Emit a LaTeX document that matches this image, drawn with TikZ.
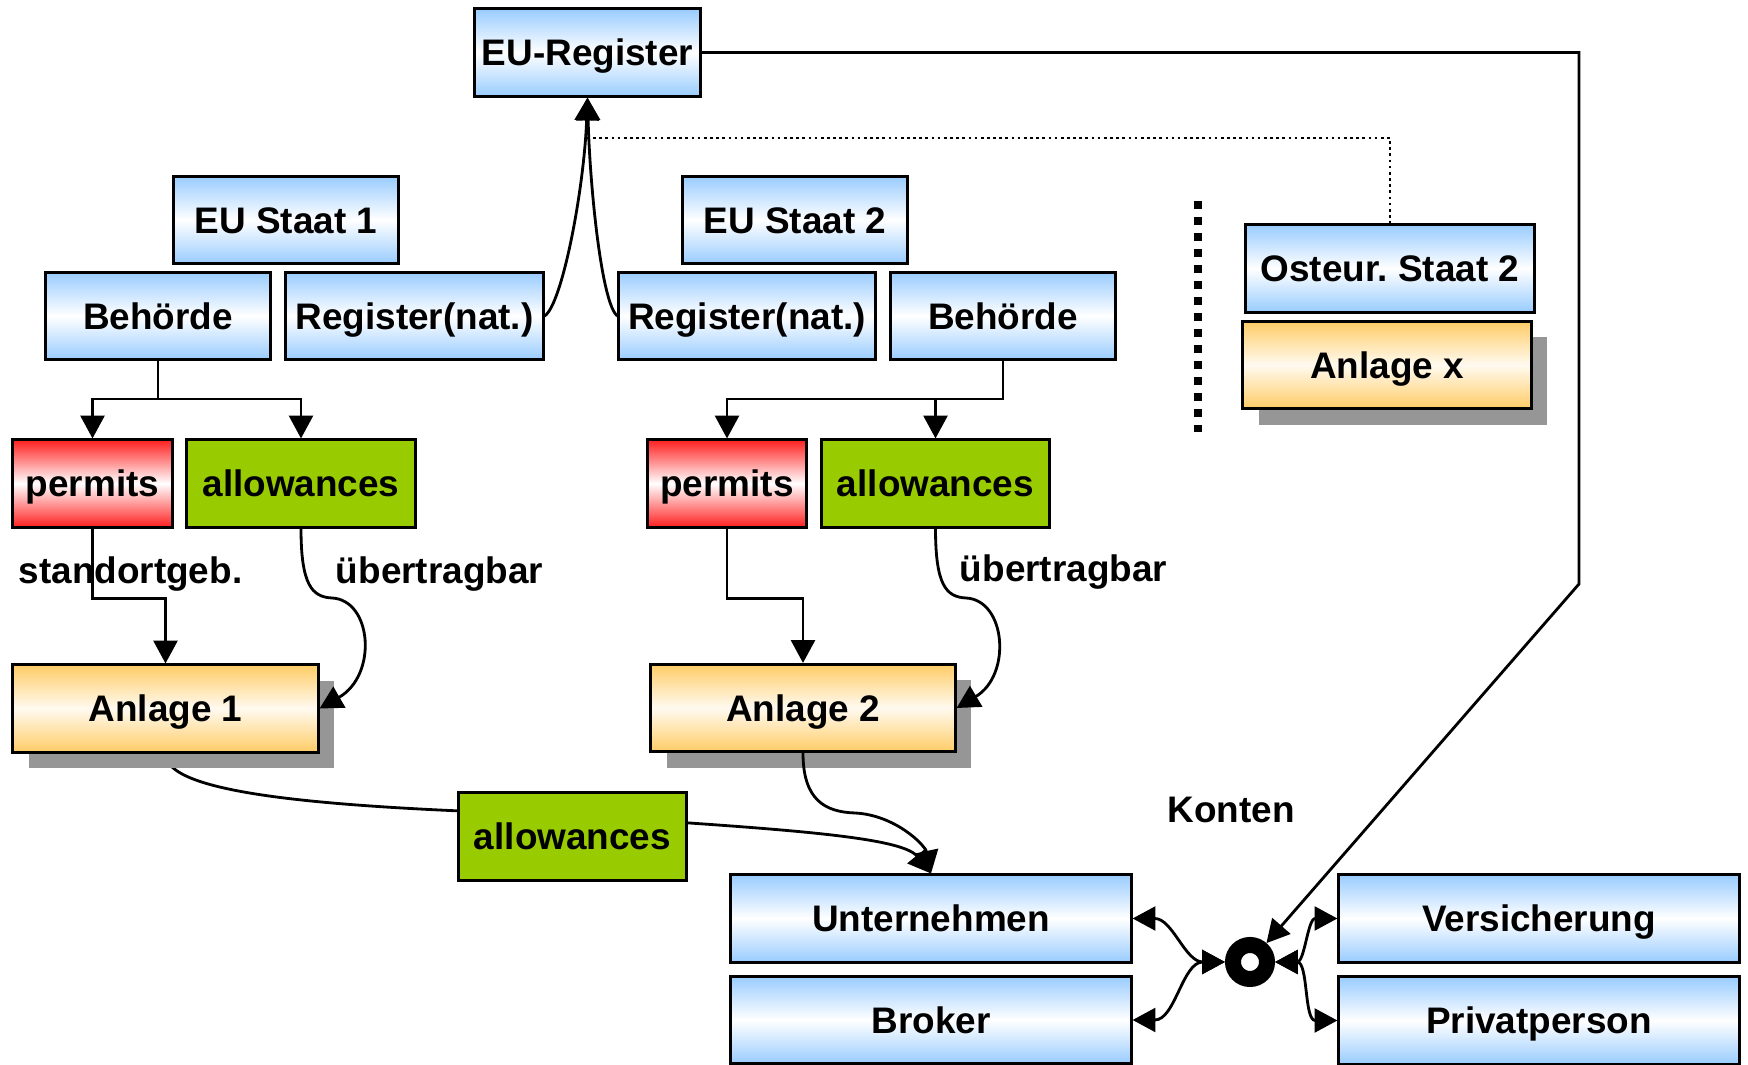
\documentclass[tikz,border=0pt]{standalone}
\usepackage{fontspec}
\setmainfont{Liberation Sans}
\usetikzlibrary{arrows.meta,shadows}
\definecolor{cblue}{RGB}{153,204,255}
\definecolor{corange}{RGB}{255,204,102}
\definecolor{corangemid}{RGB}{255,250,240}
\definecolor{cred}{RGB}{255,32,32}
\definecolor{cgreen}{RGB}{153,204,0}
\definecolor{shgray}{RGB}{150,150,150}
\pgfdeclarelayer{bg}
\pgfsetlayers{bg,main}
\frenchspacing
\begin{document}
\begin{tikzpicture}[x=0.01cm,y=-0.01cm,
  box/.style={draw=black, line width=0.85pt, minimum height=0.87cm, inner sep=0pt,
    text height=9.7pt, text depth=2.2pt,
    font=\fontsize{10.5}{12}\selectfont\bfseries},
  bluebox/.style={box, top color=cblue, bottom color=cblue, middle color=white},
  orangebox/.style={box, drop shadow={shadow xshift=0.16cm, shadow yshift=-0.16cm, fill=shgray, opacity=1},
    top color=corange, bottom color=corange, middle color=corangemid},
  redbox/.style={box, top color=cred, bottom color=cred, middle color=white},
  greenbox/.style={box, fill=cgreen},
  lbl/.style={inner sep=0pt, anchor=base, font=\fontsize{10.5}{12}\selectfont\bfseries},
  conn/.style={line width=0.8pt, -{Triangle[length=6.5pt,width=6.8pt]}},
  dconn/.style={line width=0.8pt, {Triangle[length=6.5pt,width=6.8pt]}-{Triangle[length=6.5pt,width=6.8pt]}},
  ringnode/.style={circle, draw=black, line width=0.16cm, minimum size=0.34cm, inner sep=0pt, outer sep=0.08cm}
]
\useasboundingbox (0,0) rectangle (1748,1065);

% nodes
\node[bluebox, minimum width=2.25cm] (eureg) at (587.5,52.5) {EU-Register};
\node[bluebox, minimum width=2.24cm] (staat1) at (286,220) {EU Staat 1};
\node[bluebox, minimum width=2.24cm] (beh1) at (158,316) {Behörde};
\node[bluebox, minimum width=2.57cm] (reg1) at (414.5,316) {Register(nat.)};
\node[bluebox, minimum width=2.24cm] (staat2) at (795,220) {EU Staat 2};
\node[bluebox, minimum width=2.56cm] (reg2) at (747,316) {Register(nat.)};
\node[bluebox, minimum width=2.24cm] (beh2) at (1003,316) {Behörde};
\node[redbox, minimum width=1.59cm] (perm1) at (92.5,483.5) {permits};
\node[greenbox, minimum width=2.28cm] (allow1) at (301,483.5) {allowances};
\node[orangebox, minimum width=3.05cm] (anl1) at (165.5,708.5) {Anlage 1};
\node[redbox, minimum width=1.58cm] (perm2) at (727,483.5) {permits};
\node[greenbox, minimum width=2.27cm] (allow2) at (935.5,483.5) {allowances};
\node[orangebox, minimum width=3.04cm] (anl2) at (803,708) {Anlage 2};
\node[bluebox, minimum width=2.88cm] (osteur) at (1390,268.5) {Osteur. Staat 2};
\node[orangebox, minimum width=2.88cm] (anlx) at (1387,365) {Anlage x};
\node[greenbox, minimum width=2.27cm] (allowM) at (572.5,836.5) {allowances};
\node[bluebox, minimum width=4cm] (untern) at (931,918.5) {Unternehmen};
\node[bluebox, minimum width=4cm] (broker) at (931,1020) {Broker};
\node[bluebox, minimum width=4cm] (versich) at (1539,918.5) {Versicherung};
\node[bluebox, minimum width=4cm] (privat) at (1539,1020.5) {Privatperson};
\node[ringnode] (ring) at (1250,962) {};

% labels
\node[lbl, anchor=base west] (lstand) at (18,584) {standortgeb.};
\node[lbl] (lueb1) at (439.5,584) {übertragbar};
\node[lbl] (lueb2) at (1063.5,582) {übertragbar};
\node[lbl] (lkonten) at (1231,823) {Konten};

% coordinates
\coordinate (dotstart) at (587,138);
\coordinate (b1) at (158,399);
\coordinate (b2) at (1003,399);
\coordinate (c2) at (1579,584);
\coordinate (sepA) at (1198,201);
\coordinate (sepB) at (1198,432);

% separator
\draw[line width=0.08cm, dash pattern=on 0.08cm off 0.08cm] (sepA) -- (sepB);

% registers to EU register
\draw[conn] (reg1.east) .. controls (562,305) and (584,190) .. (eureg.south);
\draw[conn] (reg2.west) .. controls (602,305) and (590,190) .. (eureg.south);
\draw[densely dotted, line width=0.75pt] (dotstart) -| (osteur.north);

% EU register to accounts
\draw[conn] (eureg.east) -| (c2) -- (ring);

% authorities
\draw[conn] (beh1.south) -- (b1) -| (perm1.north);
\draw[conn] (b1) -| (allow1.north);
\draw[conn] (beh2.south) -- (b2) -| (perm2.north);
\draw[conn] (b2) -| (allow2.north);

% permits / allowances to plants
\draw[conn] (perm1.south) -- ++(0,70) -| (anl1.north);
\draw[conn] (perm2.south) -- ++(0,70) -| (anl2.north);
\draw[conn] (allow1.south) .. controls (301,585) and (312,597) .. (332,598)
  .. controls (372,600) and (378,675) .. (anl1.east);
\draw[conn] (allow2.south) .. controls (935.5,585) and (946,597) .. (966,598)
  .. controls (1006,600) and (1012,675) .. (anl2.east);

% plants to Unternehmen
\begin{pgfonlayer}{bg}
\draw[conn] (anl1.south) .. controls (165,795) and (330,808) .. (572,815)
  .. controls (760,828) and (900,835) .. (untern.north);
\end{pgfonlayer}
\draw[conn] (anl2.south) .. controls (803,800) and (825,812) .. (855,813)
  .. controls (895,815) and (925,845) .. (untern.north);

% accounts
\draw[dconn] (untern.east) to[out=0,in=180] (ring.west);
\draw[dconn] (broker.east) to[out=0,in=180] (ring.west);
\draw[dconn] (versich.west) to[out=180,in=0] (ring.east);
\draw[dconn] (privat.west) to[out=180,in=0] (ring.east);
\end{tikzpicture}
\end{document}
